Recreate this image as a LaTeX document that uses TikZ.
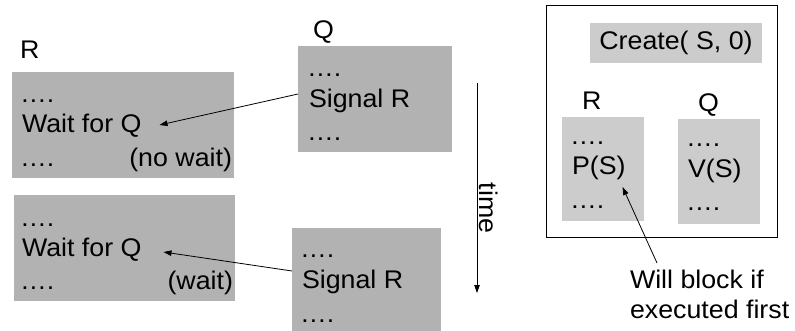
\documentclass[tikz,border=0pt]{standalone}
\usepackage{fontspec}
\setmainfont{Liberation Sans}[FakeStretch=1.05]
\usetikzlibrary{arrows.meta}
\definecolor{boxdark}{HTML}{B2B2B2}
\definecolor{boxlight}{HTML}{CCCCCC}
\tikzset{
  txt/.style={inner sep=0pt, outer sep=0pt, anchor=base west, font=\fontsize{25.5}{29}\selectfont},
  darkbox/.style={fill=boxdark, draw=none, anchor=north west, inner sep=0pt, outer sep=0pt},
  lightbox/.style={fill=boxlight, draw=none, anchor=north west, inner sep=0pt, outer sep=0pt},
  arr/.style={-{Triangle[length=8pt,width=5.5pt]}, line width=0.8pt, black},
}
\begin{document}
\begin{tikzpicture}[x=1pt,y=-1pt]
\useasboundingbox (0,0) rectangle (795,331);
% ---------- left part ----------
\node[darkbox, minimum width=222pt, minimum height=106pt] (r1) at (12,72) {};
\node[darkbox, minimum width=221pt, minimum height=106pt] (r2) at (14,195) {};
\node[darkbox, minimum width=154pt, minimum height=106pt] (q1) at (298,46) {};
\node[darkbox, minimum width=149pt, minimum height=103pt] (q2) at (292,228) {};

\node[txt] (lr) at (20,59) {R};
\node[txt] (lq) at (313,39) {Q};

\node[txt] (r1a) at (20,103) {….};
\node[txt] (w1) at (22,133) {Wait for Q};
\node[txt] (r1c) at (20,167) {….};
\node[txt, anchor=base east] (nw) at (232,167) {(no wait)};

\node[txt] (r2a) at (20,226) {….};
\node[txt] (w2) at (22,256) {Wait for Q};
\node[txt] (r2c) at (20,289) {….};
\node[txt, anchor=base east] (ww) at (233,289) {(wait)};

\node[txt] (q1a) at (307,77) {….};
\node[txt] (s1) at (309,108) {Signal R};
\node[txt] (q1c) at (307,141) {….};

\node[txt] (q2a) at (300,257) {….};
\node[txt] (s2) at (302,288) {Signal R};
\node[txt] (q2c) at (300,322) {….};

\draw[arr] ([yshift=5pt]q1.west) -- ([shift={(18pt,8pt)}]w1.base east);
\draw[arr] ([yshift=8.5pt]q2.west) -- ([shift={(22pt,4pt)}]w2.base east);

% time arrow
\coordinate (t0) at (477,83);
\coordinate (t1) at (477,293);
\draw[arr] (t0) -- (t1);
\node[txt, anchor=center, rotate=-90] (time) at (489,208) {time};

% ---------- right part ----------
\node[draw=black, line width=0.8pt, anchor=north west, inner sep=0pt, minimum width=231pt, minimum height=232pt] (frame) at (546,5) {};
\node[lightbox, minimum width=172pt, minimum height=40pt] (cb) at (590,23) {};
\node[txt, anchor=center] (create) at (cb.center) {Create( S, 0)};

\node[txt] (rr) at (582,110) {R};
\node[txt] (rq) at (698,112) {Q};

\node[lightbox, minimum width=82pt, minimum height=104pt] (r3) at (562,117) {};
\node[lightbox, minimum width=82pt, minimum height=105pt] (q3) at (678,119) {};

\node[txt] (r3a) at (570,145) {….};
\node[txt] (ps) at (572,175) {P(S)};
\node[txt] (r3c) at (570,209) {….};

\node[txt] (q3a) at (686,147) {….};
\node[txt] (vs) at (688,178) {V(S)};
\node[txt] (q3c) at (686,211) {….};

\node[txt] (blk) at (630,288) {Will block if};
\node[txt] (exf) at (630,318) {executed first};
\coordinate (blktail) at (657,263);
\draw[arr] (blktail) -- ([shift={(-3pt,-12pt)}]ps.base east);
\end{tikzpicture}
\end{document}
